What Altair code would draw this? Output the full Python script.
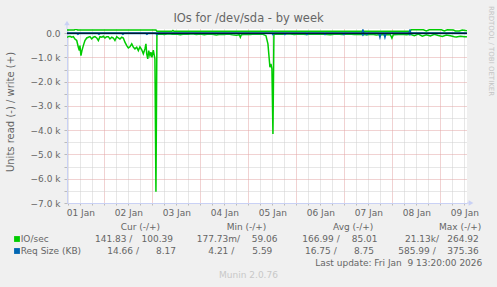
import altair as alt
import pandas as pd

FONT = "DejaVu Sans"

# ---- data: hours since 01 Jan 00:00, values in units/s ----
read_hours = [5.3, 6.0, 6.8, 7.7, 8.5, 9.3, 10.2, 11.0, 11.5, 11.8,
              12.3, 12.8, 13.5, 14.3, 15.2, 16.0, 16.8, 17.7, 18.5, 19.3,
              20.2, 21.0, 21.8, 22.7, 23.5, 24.3, 25.2, 26.0, 26.8, 27.7,
              28.5, 29.3, 30.2, 31.0, 31.8, 32.7, 33.5, 34.3, 35.2, 36.0,
              36.8, 37.7, 38.5, 39.3, 40.2, 41.0, 41.8, 42.7, 43.5, 44.3,
              44.8, 45.2, 45.7, 46.2, 46.8, 47.3, 47.8, 48.5, 49.3, 49.8,
              50.3, 52, 54, 56, 58, 60, 62, 64, 66, 68,
              70, 72, 74, 76, 78, 80, 82, 84, 86, 88,
              90, 91.5, 92, 92.5, 95, 97, 99, 101, 103, 104.8,
              105.8, 106.8, 107.3, 107.8, 108.3, 108.8, 110, 113, 116, 119,
              122, 125, 128, 131, 134, 137, 140, 143, 146, 149,
              152, 155, 158, 160, 162, 164, 167, 167.8, 168.5, 171,
              173, 175, 177, 179, 181, 183, 185, 187, 189, 191,
              193, 195, 197, 199, 200, 202, 204, 205.3]
read_vals = [-165, -140, -125, -165, -140, -235, -300, -575, -715, -510,
             -920, -715, -510, -300, -195, -165, -140, -235, -165, -140,
             -195, -300, -140, -165, -125, -195, -140, -140, -235, -165,
             -195, -300, -140, -195, -235, -165, -195, -370, -510, -605,
             -560, -440, -575, -645, -575, -715, -560, -680, -850, -645,
             -440, -850, -1060, -715, -920, -780, -990, -700, -1060, -6540,
             -40, -30, -55, -20, -45, -35, -60, -30, -40, -25,
             -50, -35, -60, -30, -45, -70, -40, -55, -30, -60,
             -80, -60, -165, -60, -40, -55, -30, -45, -35, -100,
             -440, -1400, -1260, -1470, -4150, -40, -30, -45, -25, -50,
             -35, -55, -30, -45, -40, -60, -35, -50, -30, -55,
             -40, -65, -45, -70, -50, -60, -60, -200, -60, -55,
             -40, -60, -45, -100, -30, -120, -60, -110, -40, -90,
             -130, -70, -100, -140, -150, -120, -145, -140]

write_hours = [5.3, 9.0, 9.8, 10.6, 49.8, 50.3, 57.8, 58.3, 58.8, 176.5,
               177.5, 183.5, 185.0, 186.5, 192.5, 194.0, 195.5, 198.5, 199.5, 201.5,
               203.0, 205.3]
write_vals = [135, 135, 170, 135, 135, 80, 80, 115, 80, 80,
              140, 140, 95, 140, 140, 95, 140, 135, 95, 90,
              135, 100]

req_read_hours = [5.3, 10.3, 10.8, 11.3, 20.8, 21.3, 21.8, 32.8, 33.3, 33.8,
                  44.8, 45.3, 45.8, 49.8, 50.3, 50.8, 107.8, 108.3, 108.8, 113.8,
                  114.3, 114.8, 124.8, 125.3, 125.8, 133.8, 134.3, 134.8, 143.3, 143.8,
                  144.3, 152.8, 153.3, 153.8, 154.8, 155.3, 155.8, 161.3, 161.8, 162.3,
                  163.8, 164.3, 164.8, 176.3, 176.8, 177.3, 205.3]
req_read_vals = [-15, -15, -45, -15, -15, -45, -15, -15, -45, -15,
                 -15, -45, -15, -15, -50, -15, -15, -60, -15, -15,
                 -50, -15, -15, -50, -15, -15, -50, -15, -15, -50,
                 -15, -15, -80, -15, -15, -60, -15, -15, -170, -15,
                 -15, -170, -15, -15, -60, -15, -15]

req_write_hours = [5.3, 152.8, 153.3, 153.8, 176.3, 176.8, 177.3, 205.3]
req_write_vals = [8, 8, 130, 8, 8, 120, 8, 8]

y_ticks = list(range(-7000, 1, 500))
x_ticks = list(range(6, 205, 6))
X_DOMAIN = [5.333, 205.333]
Y_DOMAIN = [-7000, 175]

# ---- layout ----
W, H = 400, 174
LEFT, TOP = 67, 29
AXIS_C = "#C9D1F5"
TXT = "#666666"
GREEN = "#00CC00"
BLUE = "#0066B3"

x_axis = alt.Axis(
    values=x_ticks, title="", grid=True, gridDash=[1, 1], gridWidth=1,
    gridColor={"condition": {"test": "datum.value % 24 == 0", "value": "#E3A5A5"}, "value": "#CFCFCF"},
    labelExpr="datum.value % 24 == 12 ? '0' + (floor(datum.value / 24) + 1) + ' Jan' : ''",
    labelOverlap=False, labelFont=FONT, labelFontSize=9, labelColor=TXT,
    labelPadding=3, tickSize=2, tickColor="#BBBBBB", domainColor=AXIS_C, labelFlush=False,
)
y_axis = alt.Axis(
    values=y_ticks, title="", grid=True, gridDash=[1, 1], gridWidth=1,
    gridColor={"condition": {"test": "datum.value % 1000 == 0", "value": "#E3A5A5"}, "value": "#CFCFCF"},
    labelExpr="datum.value % 1000 == 0 ? (datum.value == 0 ? '0.0' : format(datum.value / 1000, '.1f') + ' k') : ''",
    labelOverlap=False, labelFont=FONT, labelFontSize=9, labelColor=TXT,
    labelPadding=4, tickSize=3, tickColor="#BBBBBB", domainColor=AXIS_C,
)
x_enc = alt.X("h:Q", scale=alt.Scale(domain=X_DOMAIN, nice=False, zero=False), axis=x_axis)
y_enc = alt.Y("v:Q", scale=alt.Scale(domain=Y_DOMAIN, nice=False, zero=False), axis=y_axis)


def series(hours, vals, color):
    df = pd.DataFrame({"h": hours, "v": vals})
    return alt.Chart(df).mark_line(color=color, strokeWidth=1.5, clip=True).encode(x=x_enc, y=y_enc)


one = alt.Data(values=[{}])


def txt(s, x, y, size=9, align="left", color=TXT, angle=0, baseline="middle"):
    return alt.Chart(one).mark_text(
        align=align, baseline=baseline, font=FONT, fontSize=size, color=color, angle=angle
    ).encode(x=alt.value(x - LEFT), y=alt.value(y - TOP), text=alt.value(s))


layers = [
    series(read_hours, read_vals, GREEN),
    series(write_hours, write_vals, GREEN),
    series(req_read_hours, req_read_vals, BLUE),
    series(req_write_hours, req_write_vals, BLUE),
    alt.Chart(pd.DataFrame({"v": [0]})).mark_rule(color="black", strokeWidth=1).encode(y=y_enc),
    # axis arrows
    alt.Chart(one).mark_rule(color=AXIS_C).encode(x=alt.value(0), y=alt.value(0), y2=alt.value(-5)),
    alt.Chart(one).mark_point(shape="triangle-up", filled=True, size=30, opacity=1, color=AXIS_C)
    .encode(x=alt.value(0), y=alt.value(-6)),
    alt.Chart(one).mark_rule(color=AXIS_C).encode(x=alt.value(W), x2=alt.value(W + 4), y=alt.value(H)),
    alt.Chart(one).mark_point(shape="triangle-right", filled=True, size=30, opacity=1, color=AXIS_C)
    .encode(x=alt.value(W + 4), y=alt.value(H)),
    # legend squares
    alt.Chart(one).mark_point(shape="square", filled=True, size=34, opacity=1, color=GREEN)
    .encode(x=alt.value(17 - LEFT), y=alt.value(239 - TOP)),
    alt.Chart(one).mark_point(shape="square", filled=True, size=34, opacity=1, color=BLUE)
    .encode(x=alt.value(17 - LEFT), y=alt.value(251 - TOP)),
    # texts
    txt("IOs for /dev/sda - by week", 248.5, 19, size=11.5, align="center"),
    txt("Units read (-) / write (+)", 11, 112, size=10, align="center", angle=270),
    txt("RRDTOOL / TOBI OETIKER", 491, 51, size=7, align="center", angle=90, color="#C4C4C4"),
    txt("Cur (-/+)", 120.7, 227.3),
    txt("Min (-/+)", 226.7, 227.3),
    txt("Avg (-/+)", 333, 227.3),
    txt("Max (-/+)", 439, 227.3),
    txt("IO/sec", 20.7, 239),
    txt("141.83 /", 95, 239),
    txt("100.39", 141.5, 239),
    txt("177.73m/", 196.7, 239),
    txt("59.06", 251.7, 239),
    txt("166.99 /", 302.3, 239),
    txt("85.01", 351.7, 239),
    txt("21.13k/", 405, 239),
    txt("264.92", 447.3, 239),
    txt("Req Size (KB)", 20.7, 251),
    txt("14.66 /", 107.3, 251),
    txt("8.17", 156, 251),
    txt("4.21 /", 208.3, 251),
    txt("5.59", 252.3, 251),
    txt("16.75 /", 305, 251),
    txt("8.75", 354, 251),
    txt("585.99 /", 398.3, 251),
    txt("375.36", 447.3, 251),
    txt("Last update: Fri Jan\u00a0\u00a09 13:20:00 2026", 482.3, 263.3, align="right"),
    txt("Munin 2.0.76", 248.5, 275, align="center", color="#C8C8C8"),
]

chart = alt.layer(*layers).properties(
    width=W, height=H,
    padding={"left": LEFT, "top": TOP, "right": 497 - LEFT - W, "bottom": 287 - TOP - H},
    autosize=alt.AutoSizeParams(type="none"),
).configure(background="#F0F0F0").configure_view(fill="white", strokeWidth=0)

chart.save("out.html", embed_options={"renderer": "svg", "actions": False})
